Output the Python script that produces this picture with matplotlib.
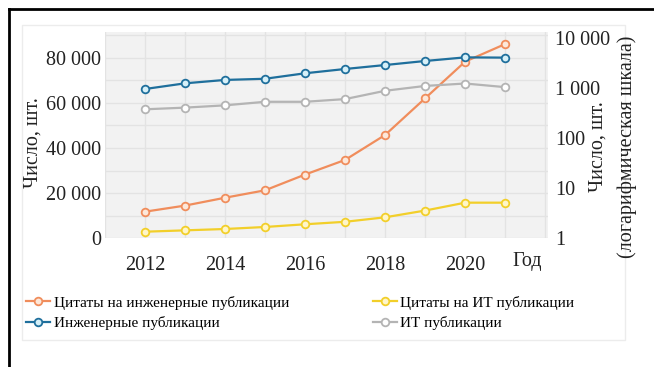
import matplotlib
matplotlib.use("Agg")
import matplotlib.pyplot as plt
from matplotlib.lines import Line2D
from matplotlib.patches import Rectangle
from matplotlib.ticker import FixedLocator, MultipleLocator

# данные
years = [2012, 2013, 2014, 2015, 2016, 2017, 2018, 2019, 2020, 2021]
cit_eng = [11700, 14400, 17900, 21200, 28200, 34700, 45800, 62100, 78400, 86200]  # левая ось
cit_it = [2800, 3400, 4000, 4900, 6100, 7200, 9200, 12200, 15700, 15700]          # левая ось
pub_eng = [955, 1240, 1450, 1530, 1970, 2400, 2880, 3470, 4100, 4050]              # правая ось (лог)
pub_it = [375, 405, 450, 530, 530, 600, 880, 1100, 1230, 1040]                     # правая ось (лог)

x_ticks = [2012, 2014, 2016, 2018, 2020]
left_ticks = [0, 20000, 40000, 60000, 80000]
left_labels = ["0", "20 000", "40 000", "60 000", "80 000"]
right_ticks = [1, 10, 100, 1000, 10000]
right_labels = ["1", "10", "100", "1 000", "10 000"]

labels = ["Цитаты на инженерные публикации", "Инженерные публикации",
          "Цитаты на ИТ публикации", "ИТ публикации"]

plt.rcParams['font.family'] = ['Liberation Serif', 'DejaVu Serif']

W, H = 654, 367
fig = plt.figure(figsize=(W / 100, H / 100), dpi=100)
ax = fig.add_axes([105 / W, 1 - 238 / H, (548 - 105) / W, (238 - 32) / H])
ax2 = ax.twinx()

ax.set_facecolor('#f2f2f2')
ax.set_zorder(1)
ax2.set_zorder(2)
ax.set_axisbelow(True)

# линии
style = dict(lw=1.6, marker='o', ms=5.5, mew=1.3)
l1, = ax.plot(years, cit_eng, color='#f08d5c', mfc='#fde8da', **style)
l3, = ax.plot(years, cit_it, color='#f2cf2a', mfc='#fff6c8', **style)
l2, = ax2.plot(years, pub_eng, color='#1f6f9c', mfc='#d6f0f8', **style)
l4, = ax2.plot(years, pub_it, color='#b4b4b4', mfc='#ffffff', **style)

# оси
ax.set_xlim(2011, 2022.07)
ax.set_ylim(0, 206 / 45 * 20000)
ax2.set_yscale('log')
ax2.set_ylim(1, 10 ** (206 / 50))

ax.set_xticks(x_ticks)
ax.xaxis.set_minor_locator(MultipleLocator(1))
ax.set_yticks(left_ticks)
ax.set_yticklabels(left_labels)
ax.yaxis.set_minor_locator(MultipleLocator(10000))
ax2.yaxis.set_major_locator(FixedLocator(right_ticks))
ax2.yaxis.set_minor_locator(FixedLocator([]))
ax2.set_yticklabels(right_labels)

ax.grid(which='both', color='#e3e3e3', lw=1.0)
for a in (ax, ax2):
    for s in a.spines.values():
        s.set_visible(False)
ax.tick_params(axis='both', which='both', length=0, labelsize=14.5, colors='#222222')
ax.tick_params(axis='x', pad=13)
ax.tick_params(axis='y', pad=3)
ax2.tick_params(axis='y', which='both', length=0, labelsize=14.5, colors='#222222', pad=5)

# подписи осей
txt = dict(rotation=90, ha='center', va='center', fontsize=14.5, color='#222222')
fig.text(33 / W, 1 - 143 / H, "Число, шт.", **txt)
fig.text(598 / W, 1 - 147 / H, "Число, шт.", **txt)
fig.text(627 / W, 1 - 147 / H, "(логарифмическая шкала)", **txt)
ax.text(2021.55, -0.115, "Год", transform=ax.get_xaxis_transform(), ha='center', va='center',
        fontsize=14.5, color='#222222')

# легенда
fig.legend([l1, l2, l3, l4], labels, ncol=2, loc='center left',
           bbox_to_anchor=(26 / W, 1 - 313 / H), frameon=False, fontsize=11,
           handlelength=1.6, handletextpad=0.2, columnspacing=5.5, labelspacing=0.45,
           borderaxespad=0, borderpad=0)

# рамки
fig.add_artist(Rectangle((22 / W, 1 - 340 / H), (625 - 22) / W, (340 - 25) / H,
                         transform=fig.transFigure, fill=False, ec='#ececec', lw=1))
fig.add_artist(Line2D([8.5 / W, 1], [1 - 8.5 / H, 1 - 8.5 / H], transform=fig.transFigure,
                      color='black', lw=2))
fig.add_artist(Line2D([8.5 / W, 8.5 / W], [0, 1 - 8.5 / H], transform=fig.transFigure,
                      color='black', lw=2))

fig.savefig("out.png", dpi=100)
